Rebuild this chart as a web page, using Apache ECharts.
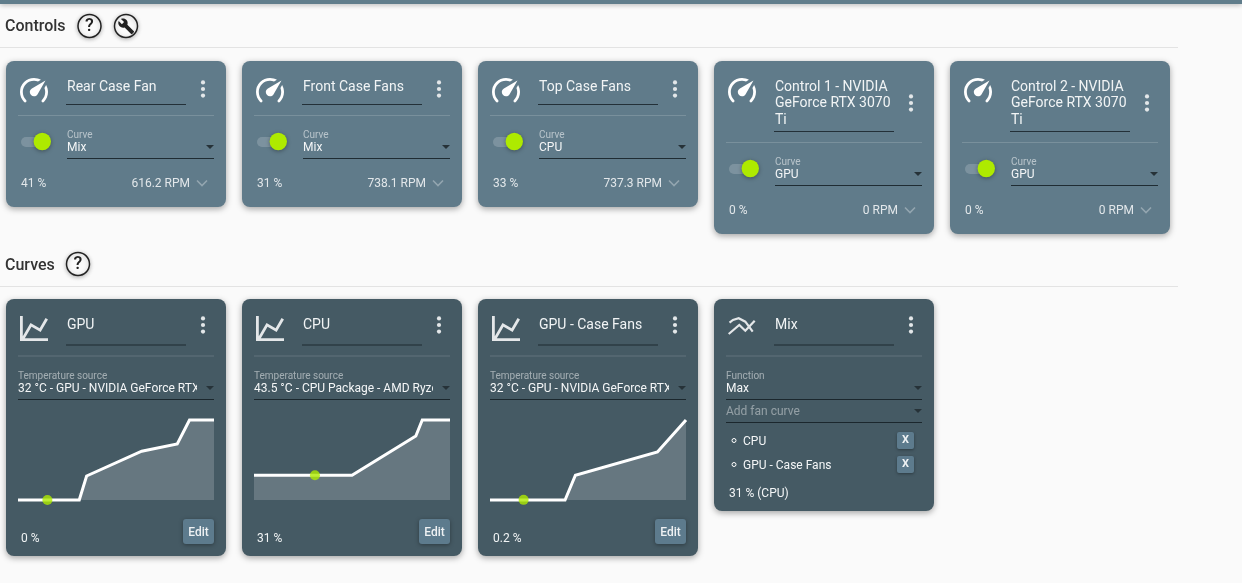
<!DOCTYPE html>
<html><head><meta charset="utf-8">
<style>html,body{margin:0;padding:0;background:#fafafa;overflow:hidden}#c{width:1242px;height:583px}</style>
<script src="https://cdn.jsdelivr.net/npm/echarts@6/dist/echarts.min.js"></script>
</head><body><div id="c"></div>
<script>
// ---- data ----
const controlNames = [['Rear Case Fan'],['Front Case Fans'],['Top Case Fans'],['Control 1 - NVIDIA','GeForce RTX 3070','Ti'],['Control 2 - NVIDIA','GeForce RTX 3070','Ti']];
const controlCurves = ['Mix','Mix','CPU','GPU','GPU'];
const controlPercents = ['41 %','31 %','33 %','0 %','0 %'];
const controlRpms = ['616.2 RPM','738.1 RPM','737.3 RPM','0 RPM','0 RPM'];
const curveNames = ['GPU','CPU','GPU - Case Fans'];
const curveSources = ['32 °C - GPU - NVIDIA GeForce RTX','43.5 °C - CPU Package - AMD Ryze','32 °C - GPU - NVIDIA GeForce RTX'];
const curvePercents = ['0 %','31 %','0.2 %'];
const gpuTemps = [20,45,48,70.5,85,90,100];
const gpuDuty  = [0,0,30,61,70,100,100];
const cpuTemps = [18,59,85.7,88.4,100];
const cpuDuty  = [31,31,80,100,100];
const caseTemps = [20,46.8,50.5,79.8,90];
const caseDuty  = [0,0,31,60,100];
const currentTemp = [32,43.5,32];
const currentDuty = [0,31,0.2];
const mixName = 'Mix';
const mixFunction = 'Max';
const mixMembers = ['CPU','GPU - Case Fans'];
const mixOutput = '31 % (CPU)';

// ---- styling ----
const FF = 'Roboto, sans-serif';
const CTRL = '#607b8a', CURVE = '#455a64', BTN = '#5d7b8d', GREEN = '#aeea00', DARK = '#263238';
const P = {
 gauge:['M12,16A3,3 0 0,1 9,13C9,11.88 9.61,10.9 10.5,10.39L20.21,4.77L14.68,14.35C14.18,15.33 13.17,16 12,16M12,3C13.81,3 15.5,3.5 16.97,4.32L14.87,5.53C14,5.19 13,5 12,5A8,8 0 0,0 4,13C4,15.21 4.89,17.21 6.34,18.65H6.35C6.74,19.04 6.74,19.67 6.35,20.06C5.96,20.45 5.32,20.45 4.93,20.07V20.07C3.12,18.26 2,15.76 2,13A10,10 0 0,1 12,3M22,13C22,15.76 20.88,18.26 19.07,20.07V20.07C18.68,20.45 18.05,20.45 17.66,20.06C17.27,19.67 17.27,19.04 17.66,18.65V18.65C19.11,17.2 20,15.21 20,13C20,12 19.81,11 19.46,10.1L20.67,8C21.5,9.5 22,11.18 22,13Z',2,3,20,17.4],
 chart:['M16,11.78L20.24,4.45L21.97,5.45L16.74,14.5L10.23,10.75L5.46,19H22V21H2V3H4V17.54L9.5,8L16,11.78Z',2,3,20,18],
 wrench:['M22.7,19L13.6,9.9C14.5,7.6 14,4.9 12.1,3C10.1,1 7.1,0.6 4.7,1.7L9,6L6,9L1.6,4.7C0.4,7.1 0.9,10.1 2.9,12.1C4.8,14 7.5,14.5 9.8,13.6L18.9,22.7C19.3,23.1 19.9,23.1 20.3,22.7L22.6,20.4C23.1,20 23.1,19.3 22.7,19Z',1,1,22,22]
};
Object.keys(P).forEach(k => echarts.graphic.registerShape('ic_'+k, echarts.graphic.extendPath(P[k][0], {})));
const g = [];
const text = (t,x,y,size,fill,o={}) => g.push({type:'text',silent:true,z:o.z||1,style:{text:t,x,y:y+1,fill,font:(o.weight||'400')+' '+size+'px '+FF,textAlign:o.align||'left',textVerticalAlign:'middle'}});
const rect = (x,y,w,h,fill,o={}) => g.push({type:'rect',silent:true,z:o.z||1,shape:{x,y,width:w,height:h,r:o.r||0},style:Object.assign({fill},o.style||{})});
const icon = (k,x,y,w,h,fill) => {
  const [,bx,by,bw,bh]=P[k], sx=w/bw, sy=h/bh;
  g.push({type:'ic_'+k,silent:true,z:1,x:x-bx*sx,y:y-by*sy,scaleX:sx,scaleY:sy,style:{fill}});
};
const circle = (cx,cy,r,style) => g.push({type:'circle',silent:true,z:1,shape:{cx,cy,r},style});
const shadow = {shadowBlur:6,shadowColor:'rgba(0,0,0,.35)',shadowOffsetY:2};
const tri = (cx,cy) => g.push({type:'polygon',silent:true,z:1,shape:{points:[[cx-4,cy-1.9],[cx+4,cy-1.9],[cx,cy+2]]},style:{fill:DARK}});
const dots = (x,cy) => [-6.6,0,6.6].forEach(d => circle(x,cy+d,2.1,{fill:'#e3e7e9'}));
const card = (x,y,h,color) => rect(x,y,220,h,color,{r:8,style:shadow});
const head = (x,y,lines,ic,off=0) => {
  ic();
  lines.forEach((l,i)=>text(l,x+61,y+25+i*16.5,14,'#f1f4f5'));
  const s=(lines.length-1)*13.5;
  dots(x+197,y+28+(lines.length>1?14:0)-(off?2:0));
  rect(x+60,y+43+s+off,120,1,'rgba(20,30,35,.8)');
  rect(x+12,y+54+s+off,196,1,'rgba(255,255,255,.16)');
};
const ring = (cx,cy) => circle(cx,cy,11.5,{fill:'#fafafa',stroke:'#222',lineWidth:1.5,shadowBlur:4,shadowColor:'rgba(0,0,0,.25)',shadowOffsetY:1});
const helpIcon = (cx,cy) => { ring(cx,cy); text('?',cx,cy-.3,18,'#222',{align:'center',weight:'500'}); };

// page chrome
rect(0,0,1242,4,'#607d8b',{style:{shadowBlur:5,shadowColor:'rgba(0,0,0,.3)',shadowOffsetY:1}});
text('Controls',5,25.5,16,'#333',{weight:'500'});
helpIcon(89.5,26);
ring(126,26);
icon('wrench',118.3,18.4,15.8,15.8,'#222');
rect(0,47,1178,1,'#e3e3e3');
text('Curves',5,264.5,16,'#333',{weight:'500'});
helpIcon(78,264);
rect(0,286,1178,1,'#e3e3e3');

// control cards
controlNames.forEach((lines,i)=>{
  const x=6+236*i, y=61, s=(lines.length-1)*13.5;
  card(x,y,146+s,CTRL);
  head(x,y,lines,()=>icon('gauge',x+14,y+17,28,24.5,'#fff'));
  rect(x+15,y+76+s,24,10,'rgba(255,255,255,.18)',{r:5});
  circle(x+36.3,y+80.5+s,8.7,{fill:GREEN,shadowBlur:4,shadowColor:'rgba(0,0,0,.35)',shadowOffsetY:1});
  text('Curve',x+61,y+73.5+s,10,'rgba(255,255,255,.55)');
  text(controlCurves[i],x+61,y+85.5+s,12,'#f4f6f7');
  tri(x+204,y+86+s);
  rect(x+61,y+97+s,147,1,'rgba(20,30,35,.85)');
  text(controlPercents[i],x+15,y+122+s,12,'#e2e7ea');
  text(controlRpms[i],x+184,y+122+s,12,'#e2e7ea',{align:'right'});
  g.push({type:'polyline',silent:true,z:1,shape:{points:[[x+191,y+119.5+s],[x+196,y+124.5+s],[x+201,y+119.5+s]]},style:{fill:'none',stroke:'rgba(255,255,255,.32)',lineWidth:1.6}});
});

// curve cards
curveNames.forEach((name,i)=>{
  const x=6+236*i, y=299;
  card(x,y,257,CURVE);
  head(x,y,[name],()=>icon('chart',x+14,y+17,28,25,'#e4e7e9'),2.5);
  text('Temperature source',x+12,y+76,10,'rgba(255,255,255,.5)');
  text(curveSources[i],x+12,y+88.5,12,'#f4f6f7');
  rect(x+191,y+81,16,17,CURVE);
  tri(x+204,y+89);
  rect(x+12,y+100,196,1,'rgba(20,30,35,.85)');
  text(curvePercents[i],x+15,y+238.5,12,'#f1f4f5');
  rect(x+177,y+220,31,25,BTN,{r:3,style:{shadowBlur:4,shadowColor:'rgba(0,0,0,.35)',shadowOffsetY:1}});
  text('Edit',x+192.5,y+233,12,'#eef1f3',{align:'center',weight:'500'});
});

// mix card
(() => {
  const x=714, y=299;
  card(x,y,212,CURVE);
  head(x,y,[mixName],()=>{
    const st={fill:'none',stroke:'#e4e7e9',lineWidth:2.2};
    g.push({type:'polyline',silent:true,z:1,shape:{points:[[729.5,322.7],[733,320],[738.7,318.3],[745.3,321.7],[752.7,331.7]]},style:st});
    g.push({type:'polyline',silent:true,z:1,shape:{points:[[728.7,334],[739.3,325],[745.3,330.7],[754.7,320.7]]},style:st});
  },2.5);
  text('Function',x+12,y+76,10,'rgba(255,255,255,.5)');
  text(mixFunction,x+12,y+88.5,12,'#f4f6f7');
  tri(x+204,y+89);
  rect(x+12,y+100,196,1,'rgba(20,30,35,.85)');
  text('Add fan curve',x+12,y+111.5,12,'rgba(255,255,255,.42)');
  tri(x+204,y+112);
  rect(x+12,y+123,196,1,'rgba(20,30,35,.85)');
  mixMembers.forEach((m,i)=>{
    const cy=y+141.5+i*24;
    circle(x+20,cy,2,{fill:'none',stroke:'#fff',lineWidth:1});
    text(m,x+29,cy,12,'#f4f6f7');
    rect(x+183,cy-8.5,17,17,BTN,{r:2,style:{shadowBlur:3,shadowColor:'rgba(0,0,0,.35)',shadowOffsetY:1}});
    text('X',x+191.5,cy-1,11,'#eef1f3',{align:'center',weight:'700'});
  });
  text(mixOutput,x+15,y+193.5,12,'#f4f6f7');
})();

// the three fan curves
const curves = [[gpuTemps,gpuDuty],[cpuTemps,cpuDuty],[caseTemps,caseDuty]];
const grid=[], xAxis=[], yAxis=[], series=[];
curves.forEach(([t,d],i)=>{
  grid.push({left:18+236*i,top:420,width:196,height:80});
  xAxis.push({type:'value',gridIndex:i,min:t[0],max:t[t.length-1],show:false});
  yAxis.push({type:'value',gridIndex:i,min:0,max:100,show:false});
  series.push({type:'line',xAxisIndex:i,yAxisIndex:i,data:t.map((v,j)=>[v,d[j]]),showSymbol:false,silent:true,clip:false,z:3,
    lineStyle:{color:'#fff',width:3,join:'miter'},areaStyle:{color:'rgba(255,255,255,.26)'}});
  series.push({type:'scatter',xAxisIndex:i,yAxisIndex:i,data:[[currentTemp[i],currentDuty[i]]],symbolSize:10,silent:true,clip:false,z:4,itemStyle:{color:GREEN}});
});

echarts.init(document.getElementById('c')).setOption({animation:false,backgroundColor:'#fafafa',tooltip:{show:false},grid,xAxis,yAxis,series,graphic:{elements:g}});
</script></body></html>
